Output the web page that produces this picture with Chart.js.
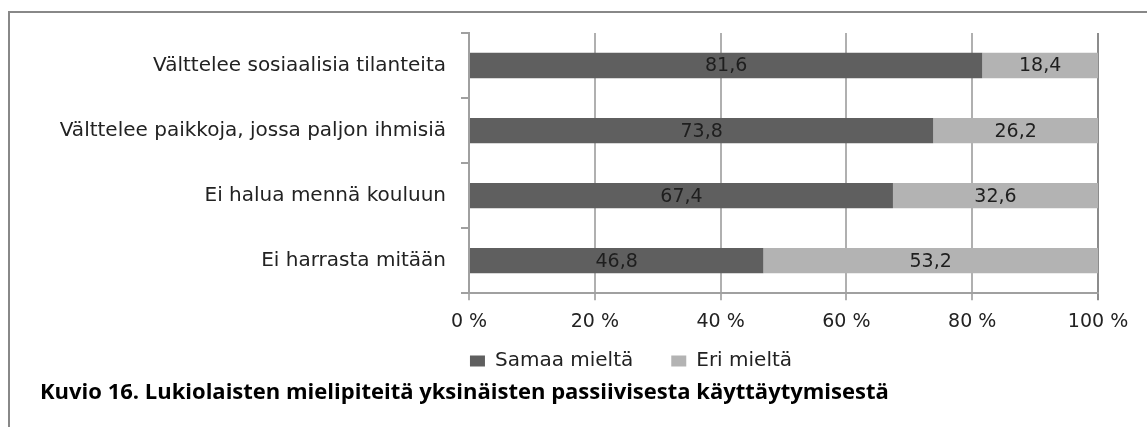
<!DOCTYPE html>
<html>
<head>
<meta charset="utf-8">
<script src="https://cdn.jsdelivr.net/npm/chart.js@4.4.1/dist/chart.umd.min.js"></script>
<style>
    body { margin: 0; background: #fff; }
    #wrap { position: relative; width: 1147px; height: 427px; overflow: hidden; }
    #frame { position: absolute; left: 8px; top: 11px; width: 1200px; height: 500px;
             border-top: 2px solid #888; border-left: 2px solid #888; }
    #chart { position: absolute; left: 0; top: 0; }
    #caption { position: absolute; left: 40px; top: 377px; font: bold 22px "Open Sans", sans-serif;
               line-height: 26px; color: #000; white-space: nowrap; }
</style>
</head>
<body>
<div id="wrap">
    <div id="frame"></div>
    <canvas id="chart" width="1147" height="427"></canvas>
    <div id="caption">Kuvio 16. Lukiolaisten mielipiteitä yksinäisten passiivisesta käyttäytymisestä</div>
</div>
<script>
var categories = [
    'Välttelee sosiaalisia tilanteita',
    'Välttelee paikkoja, jossa paljon ihmisiä',
    'Ei halua mennä kouluun',
    'Ei harrasta mitään'
];
var samaaMielta = [ 81.6, 73.8, 67.4, 46.8 ];
var eriMielta = [ 18.4, 26.2, 32.6, 53.2 ];
var seriesNames = [ 'Samaa mieltä', 'Eri mieltä' ];
var tickValues = [ 0, 20, 40, 60, 80, 100 ];

// values written inside the bar segments, decimal comma
var barLabels = {
    id: 'barLabels',
    afterDatasetsDraw: function ( chart ) {
        var ctx = chart.ctx;
        ctx.save();
        ctx.font = '19px "DejaVu Sans"';
        ctx.fillStyle = '#1e1e1e';
        ctx.textAlign = 'center';
        ctx.textBaseline = 'middle';
        chart.data.datasets.forEach( function ( ds, i ) {
            chart.getDatasetMeta( i ).data.forEach( function ( bar, j ) {
                var txt = ds.data[ j ].toFixed( 1 ).replace( '.', ',' );
                ctx.fillText( txt, ( bar.x + bar.base ) / 2, bar.y + 1 );
            } );
        } );
        ctx.restore();
    }
};

// legend sits a bit left of the plot centre and close under the axis labels
var legendPlace = {
    id: 'legendPlace',
    afterLayout: function ( chart ) {
        var lg = chart.legend;
        var h = lg.bottom - lg.top;
        lg.left = 164;
        lg.right = 1098;
        lg.width = lg.right - lg.left;
        lg.top = 313;
        lg.bottom = lg.top + h;
    }
};

new Chart( document.getElementById( 'chart' ), {
    type: 'bar',
    data: {
        labels: categories,
        datasets: [ {
            label: seriesNames[ 0 ],
            data: samaaMielta,
            backgroundColor: '#5f5f5f',
            borderWidth: 0
        }, {
            label: seriesNames[ 1 ],
            data: eriMielta,
            backgroundColor: '#b3b3b3',
            borderWidth: 0
        } ]
    },
    options: {
        indexAxis: 'y',
        responsive: false,
        animation: false,
        devicePixelRatio: 1,
        categoryPercentage: 1,
        barPercentage: 0.39,
        layout: { padding: { top: 33, right: 49, left: 20, bottom: 16 } },
        scales: {
            x: {
                stacked: true,
                min: 0,
                max: 100,
                afterBuildTicks: function ( scale ) {
                    scale.ticks = tickValues.map( function ( v ) { return { value: v }; } );
                },
                ticks: {
                    padding: 10,
                    color: '#222',
                    font: { family: 'DejaVu Sans', size: 19 },
                    callback: function ( v ) { return v + ' %'; }
                },
                grid: {
                    color: function ( c ) { return c.index === tickValues.length - 1 ? '#8c8c8c' : '#b0b0b0'; },
                    lineWidth: 2,
                    tickLength: 7
                },
                border: { color: '#a0a0a0', width: 2 }
            },
            y: {
                stacked: true,
                afterFit: function ( scale ) { scale.width = 469 - 20; },
                ticks: {
                    padding: 15,
                    color: '#222',
                    font: { family: 'DejaVu Sans', size: 20 }
                },
                grid: {
                    offset: true,
                    drawOnChartArea: false,
                    color: '#a0a0a0',
                    lineWidth: 2,
                    tickLength: 8
                },
                border: { color: '#a0a0a0', width: 2 }
            }
        },
        plugins: {
            tooltip: { enabled: false },
            legend: {
                position: 'bottom',
                labels: {
                    padding: 38,
                    boxWidth: 15,
                    boxHeight: 11,
                    color: '#222',
                    font: { family: 'DejaVu Sans', size: 20 }
                }
            }
        }
    },
    plugins: [ barLabels, legendPlace ]
} );
</script>
</body>
</html>
